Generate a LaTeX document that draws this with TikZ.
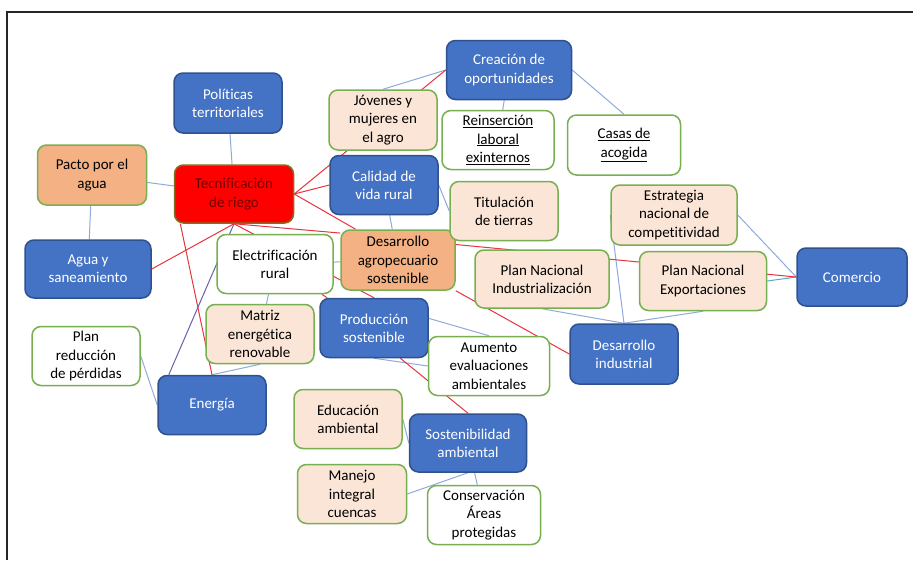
\documentclass[tikz,border=0pt]{standalone}
\usepackage{fontspec}
\setmainfont{Carlito}[Ligatures=CommonOff]
\usetikzlibrary{backgrounds}
\definecolor{boxblue}{RGB}{68,114,196}
\definecolor{edgeblue}{RGB}{47,82,143}
\definecolor{boxorange}{RGB}{244,177,131}
\definecolor{boxpeach}{RGB}{251,229,214}
\definecolor{edgegreen}{RGB}{120,175,80}
\definecolor{linkblue}{RGB}{143,170,220}
\definecolor{linkred}{RGB}{232,52,62}
\definecolor{linkteal}{RGB}{80,175,190}
\definecolor{linkpurple}{RGB}{110,95,170}
\definecolor{riegored}{RGB}{255,0,0}
\definecolor{riegotext}{RGB}{110,0,0}
\definecolor{riegoedge}{RGB}{130,110,30}
\begin{document}
\begin{tikzpicture}[x=1pt,y=-1pt,
  box/.style={rounded corners=9pt, line width=1.5pt, align=center, inner sep=0pt,
    minimum width=108pt, minimum height=59pt, font=\fontsize{15}{18.3}\selectfont},
  azul/.style={box, fill=boxblue, draw=edgeblue, text=white},
  naranja/.style={box, fill=boxorange, draw=edgegreen},
  crema/.style={box, fill=boxpeach, draw=edgegreen},
  blanco/.style={box, fill=white, draw=edgegreen},
  eje/.style={box, fill=riegored, draw=riegoedge, text=riegotext},
  lazo/.style={linkblue, line width=1pt},
  clave/.style={linkred, line width=1pt}]
\useasboundingbox (0,0) rectangle (913,560);
\draw[line width=1.5pt, black!85] (7,560) -- (7,12) -- (913,12);

% ejes
\node[eje, minimum width=119pt, minimum height=58pt] (tec) at (234,194) {Tecnificación\\de riego};
\node[naranja, minimum width=114pt, minimum height=60pt] (dagro) at (398,260) {Desarrollo\\agropecuario\\sostenible};
\node[naranja, minimum width=109pt, minimum height=60pt] (pacto) at (92,175) {Pacto por el\\agua};

% bloques azules
\node[azul, minimum height=60pt] (pol) at (228,103) {Políticas\\territoriales};
\node[azul, minimum width=126pt, minimum height=58pt] (agua) at (88,269) {Agua y\\saneamiento};
\node[azul, minimum width=125pt] (crea) at (509,70) {Creación de\\oportunidades};
\node[azul] (cal) at (384,185) {Calidad de\\vida rural};
\node[azul, minimum width=110pt, minimum height=58pt] (com) at (852,277) {Comercio};
\node[azul] (prod) at (374,328) {Producción\\sostenible};
\node[azul, minimum height=60pt] (dind) at (624,354) {Desarrollo\\industrial};
\node[azul] (ener) at (212,405) {Energía};
\node[azul, minimum width=117pt, minimum height=58pt] (sost) at (468,443) {Sostenibilidad\\ambiental};

% acciones
\node[crema, minimum height=60pt] (jov) at (383,120) {Jóvenes y\\mujeres en\\el agro};
\node[blanco, minimum width=112pt] (rein) at (498,140) {\underline{Reinserción}\\\underline{laboral}\\\underline{exinternos}};
\node[blanco, minimum width=113pt, minimum height=60pt] (casas) at (624,145) {\underline{Casas de}\\\underline{acogida}};
\node[crema] (tit) at (504,211) {Titulación\\de tierras};
\node[crema, minimum width=126pt, minimum height=60pt] (estr) at (674,215) {Estrategia\\nacional de\\competitividad};
\node[blanco, minimum width=116pt] (elec) at (275,264) {Electrificación\\rural};
\node[crema, minimum width=134pt, minimum height=58pt] (pni) at (542,279) {Plan Nacional\\Industrialización};
\node[crema, minimum width=127pt] (pne) at (703,281) {Plan Nacional\\Exportaciones};
\node[crema] (matriz) at (260,334) {Matriz\\energética\\renovable};
\node[blanco, minimum width=121pt] (aum) at (489,366) {Aumento\\evaluaciones\\ambientales};
\node[blanco] (plan) at (86,356) {Plan\\reducción\\de pérdidas};
\node[crema] (edu) at (348,419) {Educación\\ambiental};
\node[crema, minimum width=109pt] (manejo) at (352,494) {Manejo\\integral\\cuencas};
\node[blanco, minimum width=113pt] (cons) at (484,515) {Conservación\\Áreas\\protegidas};

\begin{scope}[on background layer]
\fill[white] (0,0) rectangle (913,560);
% enlaces azules
\draw[lazo] (pol) -- (tec);
\draw[lazo] (pacto) -- (tec);
\draw[lazo] (pacto) -- (agua);
\draw[lazo] (jov.north) -- (crea.west);
\draw[lazo] (crea) -- (rein);
\draw[lazo] (crea.east) -- (casas.north);
\draw[lazo] (cal.east) -- (tit.west);
\draw[lazo] (cal) -- (dagro);
\draw[lazo] (elec) -- (dagro);
\draw[lazo] (elec) -- (matriz);
\draw[lazo] (matriz.south) -- (ener.north);
\draw[lazo] (plan.east) -- (ener.west);
\draw[lazo] (prod.10) -- (aum.north);
\draw[lazo] (prod.south) -- (aum.west);
\draw[lazo] (pni.south) -- (dind.north);
\draw[lazo] (pne.south) -- (dind.north);
\draw[lazo] (estr.west) -- (dind.north);
\draw[lazo] (estr.east) -- (com.west);
\draw[linkteal, line width=1pt] (pne.east) -- (com.west);
\draw[lazo] (edu.east) -- (sost.west);
\draw[lazo] (manejo.east) -- (sost.south);
\draw[lazo] (cons) -- (sost);
\draw[linkpurple, line width=1pt] (tec.south) -- (ener.145);
% enlaces rojos
\draw[clave] (tec.south) -- (agua.east);
\draw[clave] (tec.east) -- (crea.west);
\draw[clave] (tec.east) -- (cal.west);
\draw[clave] (tec.east) -- (dagro.144);
\draw[clave] (tec.south) -- (dagro.155);
\draw[clave] (tec.south) -- (prod.north);
\draw[clave] (elec) -- (prod);
\draw[clave] (tec.209) -- (ener.north);
\draw[clave] (dagro.15) -- (com.west);
\draw[clave] (dagro.south east) -- (dind.west);
\draw[clave] (prod.-49) -- (sost.north);
\end{scope}
\end{tikzpicture}
\end{document}
